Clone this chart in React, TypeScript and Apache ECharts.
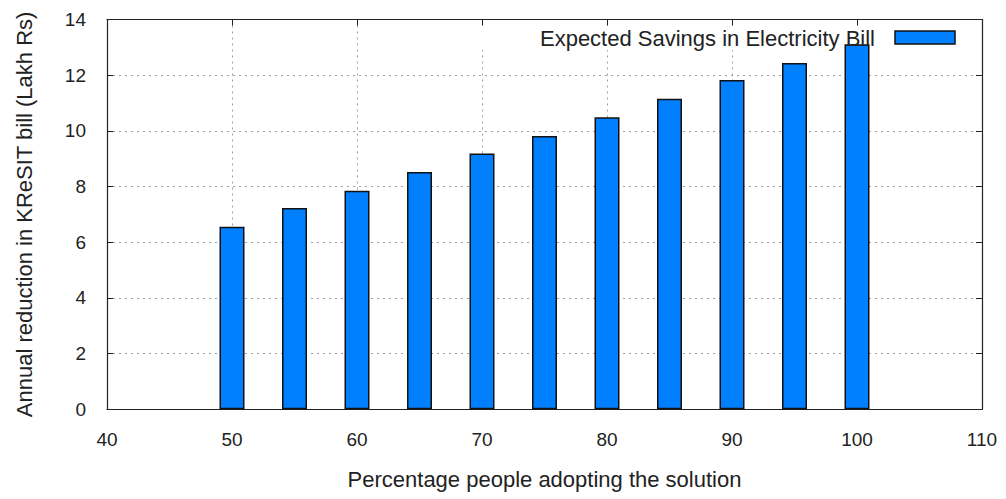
import React, { useEffect, useRef } from "react";
import * as echarts from "echarts";

const adoptionPercent = [50, 55, 60, 65, 70, 75, 80, 85, 90, 95, 100];
const savingsLakhRs = [6.56, 7.23, 7.85, 8.52, 9.19, 9.82, 10.49, 11.15, 11.83, 12.44, 13.11];
const seriesName = "Expected Savings in Electricity Bill";
const xTitle = "Percentage people adopting the solution";
const yTitle = "Annual reduction in KReSIT bill (Lakh Rs)";

const FONT = "Liberation Sans";
const TXT = "#222";

export default function App() {
  const ref = useRef<HTMLDivElement>(null);
  useEffect(() => {
    const chart = echarts.init(ref.current!, null, { renderer: "svg" });
    const data = adoptionPercent.map((x, i) => [x, savingsLakhRs[i]]);
    const tickBase = { show: true, inside: true, length: 6, lineStyle: { color: "#222", width: 1 } };
    const lineBase = { show: true, onZero: false, lineStyle: { color: "#222", width: 1.2 } };
    const split = { show: true, lineStyle: { color: "#a0a0a0", width: 1, type: [2, 4] as any } };
    chart.setOption({
      animation: false,
      backgroundColor: "#fff",
      grid: { left: 107, right: 24, top: 19.5, bottom: 89.7, containLabel: false },
      xAxis: [
        {
          type: "value", min: 40, max: 110, interval: 10, position: "bottom",
          axisLine: lineBase, axisTick: tickBase, splitLine: split,
          axisLabel: { margin: 21, color: TXT, fontFamily: FONT, fontSize: 19 },
          name: xTitle, nameLocation: "middle", nameGap: 59,
          nameTextStyle: { color: TXT, fontFamily: FONT, fontSize: 22, verticalAlign: "top" },
        },
        {
          type: "value", min: 40, max: 110, interval: 10, position: "top",
          axisLine: lineBase, axisTick: tickBase, splitLine: { show: false }, axisLabel: { show: false },
        },
      ],
      yAxis: [
        {
          type: "value", min: 0, max: 14, interval: 2, position: "left",
          axisLine: lineBase, axisTick: tickBase, splitLine: split,
          axisLabel: { margin: 21, color: TXT, fontFamily: FONT, fontSize: 19 },
          name: yTitle, nameLocation: "middle", nameGap: 72, nameRotate: 90,
          nameTextStyle: { color: TXT, fontFamily: FONT, fontSize: 22 },
        },
        {
          type: "value", min: 0, max: 14, interval: 2, position: "right",
          axisLine: lineBase, axisTick: tickBase, splitLine: { show: false }, axisLabel: { show: false },
        },
      ],
      graphic: [
        { type: "rect", z: 1, shape: { x: 470, y: 26, width: 495, height: 24 }, style: { fill: "#fff" }, silent: true },
        {
          type: "text", z: 5, x: 875, y: 38,
          style: { text: seriesName, fill: TXT, font: `22px "${FONT}"`, align: "right", verticalAlign: "middle" },
        },
        {
          type: "rect", z: 5, shape: { x: 895, y: 31, width: 60, height: 13 },
          style: { fill: "#0080ff", stroke: "#111", lineWidth: 1.5 },
        },
      ],
      series: [
        {
          type: "bar", name: seriesName, xAxisIndex: 0, yAxisIndex: 0, data, barWidth: 25, z: 3,
          itemStyle: { color: "#0080ff", borderColor: "#111", borderWidth: 1.5 },
        },
      ],
    });
    return () => chart.dispose();
  }, []);
  return <div ref={ref} style={{ position: "fixed", left: 0, top: 0, width: 1006, height: 499 }} />;
}
